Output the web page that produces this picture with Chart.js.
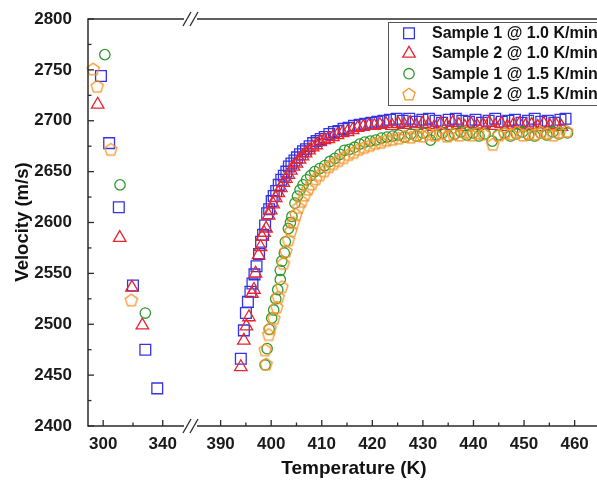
<!DOCTYPE html>
<html><head><meta charset="utf-8">
<script src="https://cdn.jsdelivr.net/npm/chart.js@4/dist/chart.umd.min.js"></script>
<style>html,body{margin:0;padding:0;overflow:hidden;background:#fff}canvas{display:block}</style>
</head><body>
<canvas id="c" width="625" height="482"></canvas>
<script>
// ---------- DATA ----------
const seriesNames = ['Sample 1 @ 1.0 K/min','Sample 2 @ 1.0 K/min','Sample 1 @ 1.5 K/min','Sample 2 @ 1.5 K/min'];
const xLabelLeft = [300, 340];
const xMinorLeft = [320];
const xLabelRight = [390, 400, 410, 420, 430, 440, 450, 460];
const xMinorRight = [395, 405, 415, 425, 435, 445, 455];

// cooling branch (left segment)
const s1r10LeftT = [298.5, 304.0, 310.5, 320.0, 328.3, 336.3];
const s1r10LeftV = [2744, 2678, 2615, 2538, 2475, 2437];
const s2r10LeftT = [296.3, 311.1, 319.3, 326.3];
const s2r10LeftV = [2716, 2585, 2536, 2499];
const s1r15LeftT = [301.1, 311.3, 328.3];
const s1r15LeftV = [2765, 2637, 2511];
const s2r15LeftT = [293.3, 296.0, 305.1, 318.9];
const s2r15LeftV = [2751, 2734, 2672, 2524];

// heating branch (right segment)
const s1r10RightT = [394.0,394.6,395.0,395.4,395.9,396.3,396.7,397.1,397.6,398.0,398.4,398.8,399.2,399.6,400.1,400.5,401.0,401.5,402.0,402.5,403.0,403.5,404.0,404.6,405.1,405.7,406.3,406.9,407.6,408.3,409.0,409.8,410.6,411.5,412.4,413.3,414.3,415.3,416.4,417.5,418.6,419.8,421.0,422.2,423.5,424.8,426.0,427.3,428.6,429.9,431.2,432.5,433.8,435.1,436.5,437.8,439.1,440.4,441.7,443.0,444.3,445.6,446.9,448.2,449.5,450.8,452.1,453.4,454.7,456.0,457.2,458.2];
const s1r10RightV = [2466,2494,2511,2522,2532,2540,2549,2557,2569,2581,2588,2597,2609,2613,2621,2626,2631,2637,2642,2646,2650,2655,2658,2661,2664,2667,2670,2672,2675,2678,2680,2682,2684,2687,2689,2690,2692,2693,2695,2696,2697,2698,2699,2700,2701,2702,2700,2702,2699,2701,2702,2700,2698,2701,2702,2700,2699,2701,2698,2700,2702,2699,2700,2701,2698,2700,2702,2699,2700,2698,2701,2702];
const s2r10RightT = [394.0,394.6,395.1,395.6,396.2,396.6,396.9,397.5,397.9,398.2,398.6,399.0,399.5,399.9,400.4,400.9,401.4,401.9,402.4,402.9,403.4,403.9,404.4,405.0,405.6,406.2,406.8,407.5,408.2,408.9,409.7,410.5,411.3,412.2,413.1,414.1,415.1,416.1,417.1,418.2,419.3,420.4,421.5,422.7,423.9,425.1,426.3,427.5,428.7,429.9,431.1,432.3,433.5,434.7,435.9,437.1,438.3,439.5,440.7,441.9,443.1,444.3,445.5,446.7,447.9,449.1,450.3,451.5,452.7,453.9,455.1,456.3,457.4];
const s2r10RightV = [2458,2484,2498,2507,2530,2534,2550,2568,2576,2586,2590,2594,2607,2612,2618,2624,2629,2634,2639,2643,2647,2651,2655,2658,2662,2665,2668,2671,2674,2676,2679,2681,2682,2684,2686,2688,2689,2691,2693,2694,2695,2695,2696,2697,2695,2697,2696,2698,2695,2697,2696,2694,2697,2695,2698,2696,2694,2697,2695,2696,2698,2695,2697,2694,2696,2697,2695,2696,2694,2697,2695,2696,2694];
const s1r15RightT = [398.8,399.2,399.6,400.1,400.5,400.9,401.3,401.8,401.8,402.1,402.6,402.8,403.4,403.8,404.1,404.7,405.2,405.7,406.3,407.0,407.8,408.6,409.6,410.6,411.6,412.6,413.6,414.5,415.5,416.5,417.5,418.5,419.6,420.7,421.8,422.9,424.0,425.2,426.4,427.6,428.8,430.0,431.5,432.7,433.9,435.1,436.3,437.5,438.7,439.9,441.1,442.3,443.7,444.9,446.1,447.3,448.5,449.7,450.9,452.1,453.3,454.5,455.7,456.9,458.6];
const s1r15RightV = [2460,2476,2495,2506,2514,2525,2534,2544,2553,2562,2570,2581,2594,2600,2606,2619,2626,2632,2637,2642,2646,2650,2653,2656,2660,2663,2667,2671,2672,2674,2677,2679,2680,2681,2683,2684,2685,2686,2684,2687,2685,2688,2681,2686,2688,2685,2687,2689,2686,2688,2685,2687,2680,2686,2688,2685,2687,2689,2686,2685,2688,2686,2689,2687,2688];
const s2r15RightT = [399.0,398.8,399.5,399.8,400.5,401.1,401.4,402.1,402.4,402.9,403.4,403.9,404.4,404.9,405.4,406.0,406.6,407.3,408.0,408.8,409.6,410.5,411.4,412.3,413.3,414.3,415.3,416.3,417.3,418.4,419.5,420.6,421.7,422.8,424.0,425.2,426.4,427.6,428.8,430.0,431.2,432.4,433.6,434.8,436.0,437.2,438.4,439.6,440.8,442.0,443.8,445.0,446.2,447.4,448.6,449.8,451.0,452.2,453.4,454.6,455.8,457.0,458.4];
const s2r15RightV = [2461,2475,2490,2496,2506,2517,2527,2537,2560,2572,2583,2592,2600,2608,2615,2621,2627,2633,2638,2643,2647,2651,2655,2658,2661,2664,2667,2669,2672,2674,2676,2678,2679,2681,2682,2683,2685,2684,2686,2685,2687,2686,2688,2685,2687,2686,2689,2686,2688,2687,2677,2686,2688,2687,2689,2686,2688,2687,2689,2688,2686,2689,2690];

// ---------- STYLE ----------
const FONT = '"Liberation Sans", Arial, Helvetica, sans-serif';
const colors = ['#3434e6', '#e8262f', '#2e9a2e', '#f5962a'];

function makePentagon(color, r, lw) {
  const s = 18;
  const c = document.createElement('canvas');
  c.width = s; c.height = s;
  const g = c.getContext('2d');
  g.strokeStyle = color; g.lineWidth = lw;
  g.beginPath();
  for (let k = 0; k < 5; k++) {
    const a = -Math.PI / 2 + k * 2 * Math.PI / 5;
    const px = s / 2 + r * Math.cos(a), py = s / 2 + 0.6 + r * Math.sin(a);
    if (k) g.lineTo(px, py); else g.moveTo(px, py);
  }
  g.closePath(); g.stroke();
  return c;
}
const pent = makePentagon(colors[3], 6.4, 1.3);
const markers = [
  {pointStyle: 'rect', radius: 7.6},
  {pointStyle: 'triangle', radius: 7.2},
  {pointStyle: 'circle', radius: 5.2},
  {pointStyle: pent, radius: 6.5}
];

function pts(T, V) { const n = Math.min(T.length, V.length); const a = []; for (let i = 0; i < n; i++) a.push({x: T[i], y: V[i]}); return a; }

const leftSets = [[s1r10LeftT, s1r10LeftV], [s2r10LeftT, s2r10LeftV], [s1r15LeftT, s1r15LeftV], [s2r15LeftT, s2r15LeftV]];
const rightSets = [[s1r10RightT, s1r10RightV], [s2r10RightT, s2r10RightV], [s1r15RightT, s1r15RightV], [s2r15RightT, s2r15RightV]];

const datasets = [];
for (let i = 0; i < 4; i++) {
  const base = {
    label: seriesNames[i], showLine: false, yAxisID: 'y',
    pointStyle: markers[i].pointStyle, pointRadius: markers[i].radius,
    pointBorderColor: colors[i], pointBackgroundColor: 'rgba(0,0,0,0)', pointBorderWidth: 1.3,
    borderColor: colors[i], backgroundColor: 'rgba(0,0,0,0)', order: 4 - i, clip: false
  };
  datasets.push(Object.assign({}, base, {xAxisID: 'x1', data: pts(leftSets[i][0], leftSets[i][1])}));
  datasets.push(Object.assign({}, base, {xAxisID: 'x2', data: pts(rightSets[i][0], rightSets[i][1])}));
}

const tickFont = {family: FONT, size: 17, weight: 'bold'};
const BREAK_X = 190;

const decor = {
  id: 'decor',
  afterDatasetsDraw(chart) {
    const ctx = chart.ctx, a = chart.chartArea;
    const ys = chart.scales.y, x1 = chart.scales.x1, x2 = chart.scales.x2;
    const line = (xa, ya, xb, yb) => { ctx.beginPath(); ctx.moveTo(xa, ya); ctx.lineTo(xb, yb); ctx.stroke(); };
    ctx.save();
    ctx.strokeStyle = '#2a2a2a'; ctx.lineWidth = 1.5;
    line(a.left, a.top - 0.75, a.left, a.bottom + 0.75);
    for (const yy of [a.top, a.bottom]) {
      line(a.left, yy, BREAK_X - 6, yy);
      line(BREAK_X + 7, yy, a.right, yy);
    }
    ctx.lineWidth = 1.3;
    for (const cx of [BREAK_X - 3, BREAK_X + 4]) {
      for (const yy of [a.top, a.bottom]) line(cx - 4, yy + 7, cx + 4, yy - 7);
    }
    ctx.lineWidth = 1.3;
    // y ticks (inward)
    for (let v = 2400; v <= 2800; v += 25) {
      const y = ys.getPixelForValue(v);
      line(a.left, y, a.left + (v % 50 === 0 ? 6 : 3.5), y);
    }
    // x ticks (inward)
    xLabelLeft.forEach(v => { const x = x1.getPixelForValue(v); line(x, a.bottom, x, a.bottom - 6); });
    xMinorLeft.forEach(v => { const x = x1.getPixelForValue(v); line(x, a.bottom, x, a.bottom - 3.5); });
    xLabelRight.forEach(v => { const x = x2.getPixelForValue(v); line(x, a.bottom, x, a.bottom - 6); });
    xMinorRight.forEach(v => { const x = x2.getPixelForValue(v); line(x, a.bottom, x, a.bottom - 3.5); });

    // axis titles
    ctx.fillStyle = '#111';
    ctx.textAlign = 'center'; ctx.textBaseline = 'middle';
    ctx.font = 'bold 19px ' + FONT;
    ctx.fillText('Temperature (K)', 354, 469);
    ctx.save();
    ctx.translate(23, 222); ctx.rotate(-Math.PI / 2);
    ctx.font = 'bold 18.5px ' + FONT;
    ctx.fillText('Velocity (m/s)', 0, 0);
    ctx.restore();

    // legend
    ctx.fillStyle = '#fff';
    ctx.fillRect(388, 22, 260, 83);
    ctx.strokeStyle = '#555'; ctx.lineWidth = 1;
    ctx.strokeRect(388.5, 22.5, 260, 83);
    const rowsY = [33.3, 53.5, 73.7, 94];
    for (let i = 0; i < 4; i++) {
      const cx = 409, cy = rowsY[i];
      ctx.strokeStyle = colors[i]; ctx.lineWidth = 1.3;
      const st = markers[i].pointStyle, r = markers[i].radius;
      if (st === 'rect') {
        const h = r * Math.SQRT1_2; ctx.strokeRect(cx - h, cy - h, 2 * h, 2 * h);
      } else if (st === 'triangle') {
        ctx.beginPath();
        for (let k = 0; k < 3; k++) { const ang = k * 2 * Math.PI / 3; const px = cx + Math.sin(ang) * r, py = cy - Math.cos(ang) * r; k ? ctx.lineTo(px, py) : ctx.moveTo(px, py); }
        ctx.closePath(); ctx.stroke();
      } else if (st === 'circle') {
        ctx.beginPath(); ctx.arc(cx, cy, r, 0, Math.PI * 2); ctx.stroke();
      } else {
        ctx.drawImage(st, cx - st.width / 2, cy - st.height / 2);
      }
      ctx.fillStyle = '#111';
      ctx.textAlign = 'left'; ctx.textBaseline = 'middle';
      ctx.font = 'bold 16px ' + FONT;
      ctx.fillText(seriesNames[i], 432, cy + 0.5);
    }
    ctx.restore();
  }
};

new Chart(document.getElementById('c'), {
  type: 'scatter',
  data: {datasets},
  options: {
    responsive: false, animation: false, events: [],
    layout: {padding: {top: 19, left: 0, right: 5, bottom: 0}},
    plugins: {legend: {display: false}, tooltip: {enabled: false}, title: {display: false}},
    scales: {
      x1: {
        type: 'linear', position: 'bottom', stack: 'xs', stackWeight: 102, weight: 1,
        min: 289.8, max: 357.8, offset: false,
        grid: {display: false}, border: {display: false},
        ticks: {font: tickFont, color: '#1a1a1a', padding: 0, maxRotation: 0, autoSkip: false, callback: v => String(v)},
        afterBuildTicks: s => { s.ticks = xLabelLeft.map(v => ({value: v})); },
        afterFit: s => { s.height = 56; }
      },
      x2: {
        type: 'linear', position: 'bottom', stack: 'xs', stackWeight: 430, weight: 2,
        min: 383.8, max: 468.2, offset: false,
        grid: {display: false}, border: {display: false},
        ticks: {font: tickFont, color: '#1a1a1a', padding: 0, maxRotation: 0, autoSkip: false, callback: v => String(v)},
        afterBuildTicks: s => { s.ticks = xLabelRight.map(v => ({value: v})); },
        afterFit: s => { s.height = 56; }
      },
      y: {
        type: 'linear', position: 'left', min: 2400, max: 2800,
        grid: {display: false}, border: {display: false},
        ticks: {stepSize: 50, font: tickFont, color: '#1a1a1a', padding: 8, callback: v => String(v)},
        afterFit: s => { s.width = 88; }
      }
    }
  },
  plugins: [decor]
});
</script>
</body></html>
